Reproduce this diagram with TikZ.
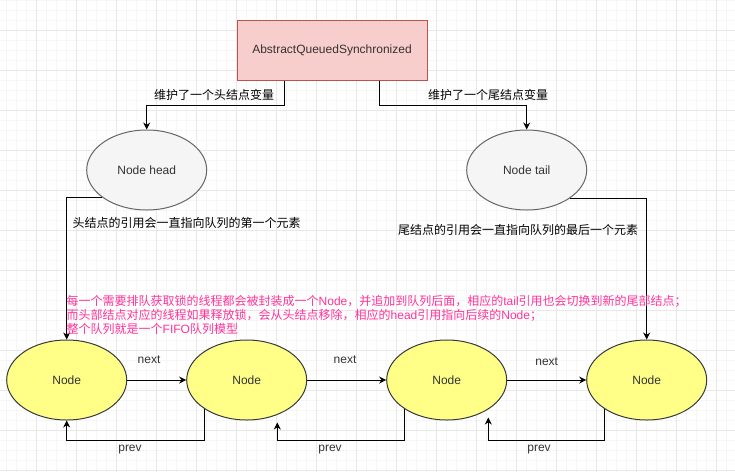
\documentclass[tikz,border=0pt]{standalone}
\usepackage{fontspec}
\setmainfont{Liberation Sans}
\newfontfamily\cjk{Noto Sans CJK SC}
\usetikzlibrary{shapes.geometric,arrows.meta,calc}
\definecolor{aqsfill}{HTML}{F8CECC}
\definecolor{aqsline}{HTML}{B85450}
\definecolor{refill}{HTML}{F5F5F5}
\definecolor{refline}{HTML}{666666}
\definecolor{qfill}{HTML}{FFFF88}
\definecolor{qline}{HTML}{36393D}
\definecolor{txt}{HTML}{333333}
\definecolor{pinktxt}{HTML}{FF3399}
\definecolor{gridmin}{HTML}{F6F6F6}
\definecolor{gridmaj}{HTML}{E8E8E8}
\begin{document}
\begin{tikzpicture}[x=1pt,y=-1pt,
  every node/.style={font=\fontsize{12}{14}\selectfont, text=txt},
  minorgrid/.style={draw=gridmin, line width=1pt},
  majorgrid/.style={draw=gridmaj, line width=1pt},
  aqsbox/.style={draw=aqsline, fill=aqsfill, line width=1pt, minimum width=190pt, minimum height=60pt, inner sep=0pt},
  refnode/.style={ellipse, draw=refline, fill=refill, line width=1pt, minimum width=120pt, minimum height=80pt, inner sep=0pt},
  qnode/.style={ellipse, draw=qline, fill=qfill, line width=1pt, minimum width=120pt, minimum height=80pt, inner sep=0pt},
  arr/.style={draw=black, line width=1pt, -{Stealth[length=7pt,width=7pt]}},
  lbl/.style={inner sep=0pt, text=black},
  note/.style={inner sep=0pt, text=pinktxt, align=left, anchor=west}
]
\useasboundingbox (0,0) rectangle (735,472);
\fill[white] (0,0) rectangle (735,472);
\foreach \x in {6,16,...,726} \draw[minorgrid] (\x,0) -- (\x,472);
\foreach \y in {0,10,...,470} \draw[minorgrid] (0,\y) -- (735,\y);
\foreach \x in {36,76,...,716} \draw[majorgrid] (\x,0) -- (\x,472);
\foreach \y in {30,70,...,470} \draw[majorgrid] (0,\y) -- (735,\y);

\node[aqsbox] (aqs) at (332,50) {AbstractQueuedSynchronized};
\node[refnode] (head) at (146.7,170) {Node head};
\node[refnode] (tail) at (526.7,170) {Node tail};
\node[qnode] (n1) at (66.7,380) {Node};
\node[qnode] (n2) at (246.7,380) {Node};
\node[qnode] (n3) at (446.7,380) {Node};
\node[qnode] (n4) at (646.7,380) {Node};

\draw[arr] ($(aqs.south)+(-47.5,0)$) -- ++(0,25) -| (head.north);
\draw[arr] ($(aqs.south)+(47,0)$) -- ++(0,25) -| (tail.north);
\node[lbl] (lh) at (214,95) {\cjk 维护了一个头结点变量};
\node[lbl] (lt) at (488,95) {\cjk 维护了一个尾结点变量};

\draw[arr] (head.212) -| (n1.north);
\draw[arr] (tail.-33) -| (n4.north);
\node[lbl] (lhr) at (186.7,223) {\cjk 头结点的引用会一直指向队列的第一个元素};
\node[lbl] (ltr) at (518,230) {\cjk 尾结点的引用会一直指向队列的最后一个元素};

\node[note] (desc) at (66.5,314.5) {{\cjk 每一个需要排队获取锁的线程都会被封装成一个}Node{\cjk ，并追加到队列后面，相应的}tail{\cjk 引用也会切换到新的尾部结点；}\\
{\cjk 而头部结点对应的线程如果释放锁，会从头结点移除，相应的}head{\cjk 引用指向后续的}Node{\cjk ；}\\
{\cjk 整个队列就是一个}FIFO{\cjk 队列模型}};

\draw[arr] (n1.east) -- (n2.west);
\draw[arr] (n2.east) -- (n3.west);
\draw[arr] (n3.east) -- (n4.west);
\node[lbl, text=txt] (x1) at (149,360) {next};
\node[lbl, text=txt] (x2) at (345,360) {next};
\node[lbl, text=txt] (x3) at (546.7,362) {next};

\draw[arr] (n2.215) |- ($(n1.south)+(0,20)$) -- (n1.south);
\draw[arr] (n3.215) |- ($(n2.south)+(30.6,20)$) -- ($(n2.south)+(30.6,2)$);
\draw[arr] (n4.215) |- ($(n3.south)+(41.6,20)$) -- ($(n3.south)+(41.6,-3)$);
\node[lbl, text=txt] (p1) at (130,450) {prev};
\node[lbl, text=txt] (p2) at (330,450) {prev};
\node[lbl, text=txt] (p3) at (539,450) {prev};
\end{tikzpicture}
\end{document}
